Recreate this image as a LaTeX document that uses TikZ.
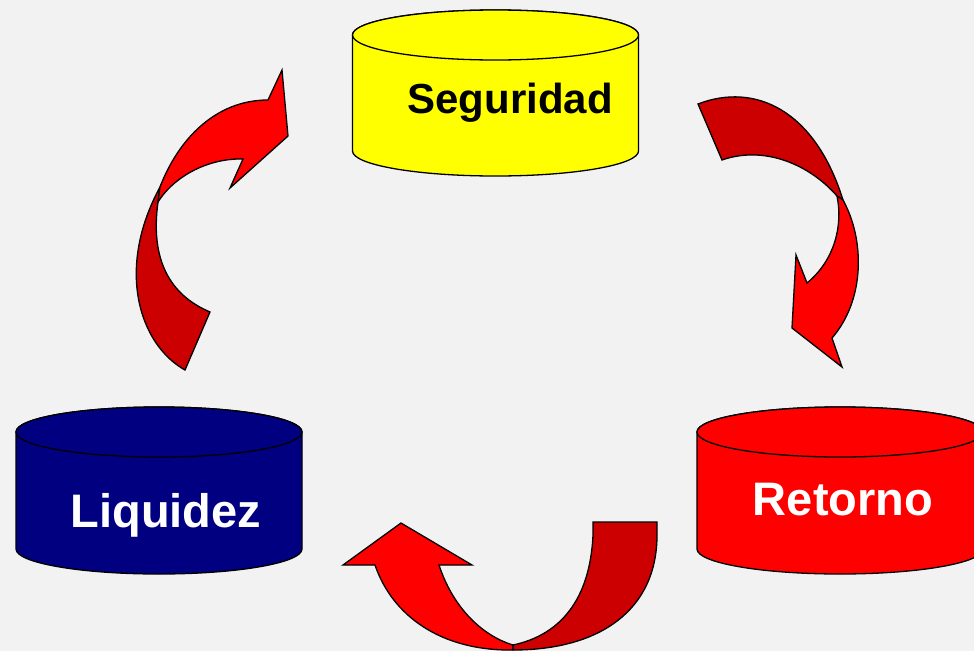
\documentclass[tikz,border=0pt]{standalone}
\usepackage{fontspec}
\setmainfont{Liberation Sans}
\definecolor{bggray}{HTML}{F2F2F2}
\definecolor{navyblue}{HTML}{000080}
\definecolor{darkred}{HTML}{CC0000}
\definecolor{brightyellow}{HTML}{FFFF00}
\tikzset{
	lightpart/.style={fill=red,draw=black},
	darkpart/.style={fill=darkred,draw=black},
	cylrad/.style={x radius=143pt,y radius=25pt},
	label/.style={font=\bfseries,anchor=base,inner sep=0pt}
}

\begin{document}
\begin{tikzpicture}[x=1pt,y=-1pt,line width=1.3pt]
		\useasboundingbox (0,0) rectangle (974,651);
		\clip (0,0) rectangle (974,651);
		\fill [bggray] (0,0) rectangle (974,651);
		\filldraw [fill=brightyellow] (352.5,35) -- (352.5,151) arc [start angle=180,end angle=360,cylrad] -- (638.5,35) arc [start angle=0,end angle=180,cylrad] -- cycle;
		\filldraw [fill=brightyellow] (495.5,35) ellipse [cylrad];
		\filldraw [fill=navyblue] (16,432) -- (16,549) arc [start angle=180,end angle=360,cylrad] -- (302,432) arc [start angle=0,end angle=180,cylrad] -- cycle;
		\filldraw [fill=navyblue] (159,432) ellipse [cylrad];
		\filldraw [fill=red] (697,432) -- (697,549) arc [start angle=180,end angle=360,cylrad] -- (983,432) arc [start angle=0,end angle=180,cylrad] -- cycle;
		\filldraw [fill=red] (840,432) ellipse [cylrad];
		\node [label,font=\bfseries\fontsize{42}{42}\selectfont] (seguridad) at (510,113) {Seguridad};
		\node [label,font=\bfseries\fontsize{47}{47}\selectfont,text=white] (liquidez) at (166,527) {Liquidez};
		\node [label,font=\bfseries\fontsize{47}{47}\selectfont,text=white] (retorno) at (843,515) {Retorno};
		\draw [darkpart] (185,370) .. controls (140,345) and (115,270) .. (160,187) -- (158,202) .. controls (150,260) and (170,295) .. (210,312) -- cycle;
		\draw [lightpart] (158,202) .. controls (175,175) and (210,158) .. (243,159) -- (230,188) -- (288,136) -- (282,70) -- (268,100) .. controls (215,100) and (178,140) .. (160,187) -- cycle;
		\draw [darkpart] (698,104) .. controls (755,82) and (815,110) .. (843,200) -- (837,196) .. controls (810,165) and (765,145) .. (722,160) -- cycle;
		\draw [lightpart] (837,196) .. controls (843,225) and (835,260) .. (807,283) -- (796,255) -- (792,328) -- (842,367) -- (832,338) .. controls (865,300) and (865,240) .. (843,200) -- cycle;
		\draw [lightpart] (375,565) .. controls (392,615) and (440,651) .. (513,650) -- (513,645) .. controls (480,635) and (452,605) .. (439,565) -- (472,565) -- (401,523) -- (343,565) -- cycle;
		\draw [darkpart] (593,522) -- (657,522) -- (657,535) .. controls (657,610) and (600,650) .. (513,650) -- (513,645) .. controls (560,635) and (590,600) .. (593,535) -- cycle;
	\end{tikzpicture}
\end{document}
